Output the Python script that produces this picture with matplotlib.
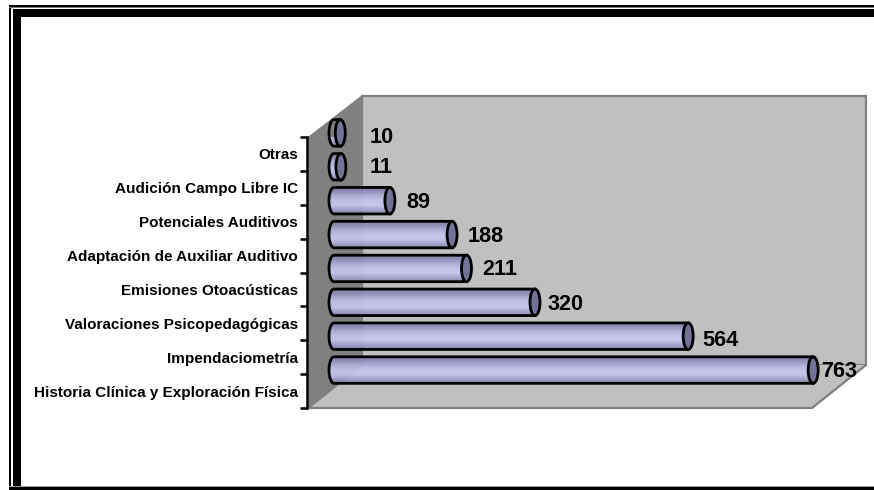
import numpy as np
import matplotlib
matplotlib.use("Agg")
import matplotlib.pyplot as plt
from matplotlib.patches import Polygon, Rectangle, PathPatch, Ellipse
from matplotlib.path import Path
from matplotlib.colors import LinearSegmentedColormap

categories = ["Historia Clínica y Exploración Física", "Impendaciometría",
              "Valoraciones Psicopedagógicas", "Emisiones Otoacústicas",
              "Adaptación de Auxiliar Auditivo", "Potenciales Auditivos",
              "Audición Campo Libre IC", "Otras"]
values = [763, 564, 320, 211, 188, 89, 11, 10]
label_dx_px = [7, 13, 12, 15, 15, 15, 28, 28]
label_dy_px = [1, 4, 2, 1, 2, 2, 1, 5]

W, H = 874, 490
fig = plt.figure(figsize=(W / 100, H / 100), dpi=100, facecolor="white")
plt.rcParams["font.family"] = ["Liberation Sans", "DejaVu Sans"]

# pixel-space layer: frame and 3D box
bg = fig.add_axes([0, 0, 1, 1], zorder=0)
bg.set_xlim(0, W); bg.set_ylim(H, 0); bg.axis("off")
for x, y, w, h in [(9, 5, W, 2), (9, 5, 2, H), (13, 9, 8, H), (13, 9, W, 8), (9, 487, W, 3)]:
    bg.add_patch(Rectangle((x, y), w, h, fc="black", ec="none"))
bg.add_patch(Rectangle((9, 486), W, 1.2, fc="#999999", ec="none"))
bg.add_patch(Rectangle((9, 7), W, 0.8, fc="#777777", ec="none"))

bg.add_patch(Polygon([(362, 96), (866, 96), (866, 365), (362, 365)], fc="#C0C0C0", ec="#808080", lw=1.6))
bg.add_patch(Polygon([(309, 408), (362, 365), (866, 365), (812, 408)], fc="#C0C0C0", ec="none"))
bg.plot([309, 812, 866], [408, 408, 365], color="#808080", lw=1.6, solid_capstyle="butt")
bg.add_patch(Polygon([(309, 137), (362, 96), (362, 365), (309, 408)], fc="#808080", ec="#808080", lw=1))

# data axes: left edge = the value axis line, one slot per category
ax = fig.add_axes([309 / W, (H - 408) / H, (W - 309) / W, (408 - 137) / H], zorder=2)
ax.patch.set_alpha(0)
px_per_unit = 0.628
zero_px = 334
xlim = ((309 - zero_px) / px_per_unit, (W - zero_px) / px_per_unit)
slot = (408 - 137) / 8
for s in ("top", "right", "bottom"):
    ax.spines[s].set_visible(False)
ax.spines["left"].set_linewidth(1.8)
ax.spines["left"].set_position(("outward", 1.6))
ax.set_xticks([])
ax.set_yticks(np.arange(9))
ax.set_yticklabels([])
ax.set_yticks(np.arange(8) + 0.5, labels=categories, minor=True)
ax.tick_params(axis="y", which="major", length=5, width=1.8)
ax.tick_params(axis="y", which="minor", length=0, pad=6.4)
for t in ax.get_yticklabels(minor=True):
    t.set_fontweight("bold"); t.set_fontsize(11); t.set_color("black")

cmap = LinearSegmentedColormap.from_list("cyl", ["#8585AE", "#A6A6D2", "#C8C8F2", "#C4C4EE", "#B0B0DC", "#9090BA", "#7C7CA0"])
grad = np.linspace(0, 1, 64).reshape(-1, 1)

bar_h = 26.5 / slot
cap_w = 10 / px_per_unit
for i, v in enumerate(values):
    yc = i + 0.5 + 21 / slot
    th = np.linspace(np.pi / 2, 3 * np.pi / 2, 30)
    xs = np.r_[cap_w / 2 * np.cos(th), v, v, cap_w / 2 * np.cos(th[0])]
    ys = np.r_[yc + bar_h / 2 * np.sin(th), yc - bar_h / 2, yc + bar_h / 2, yc + bar_h / 2]
    body = PathPatch(Path(np.c_[xs, ys]), fc="none", ec="black", lw=2.0, zorder=4, clip_on=False)
    ax.add_patch(body)
    im = ax.imshow(grad, extent=(-cap_w / 2, v, yc + bar_h / 2, yc - bar_h / 2), origin="upper",
                   aspect="auto", cmap=cmap, alpha=0.93, zorder=3, clip_on=True)
    im.set_clip_path(PathPatch(Path(np.c_[xs, ys]), transform=ax.transData))
    ax.add_patch(Ellipse((v, yc), cap_w, bar_h, fc="#73739A", ec="black", lw=2.0, zorder=5, clip_on=False))
    ax.annotate(str(v), (v, yc), xytext=((label_dx_px[i] + 1) * 0.72, -label_dy_px[i] * 0.72), textcoords="offset points",
                ha="left", va="center", fontsize=15.6, fontweight="bold", color="black", zorder=6, annotation_clip=False)
ax.set_xlim(*xlim)
ax.set_ylim(0, 8)
fig.savefig("out.png", dpi=100)
